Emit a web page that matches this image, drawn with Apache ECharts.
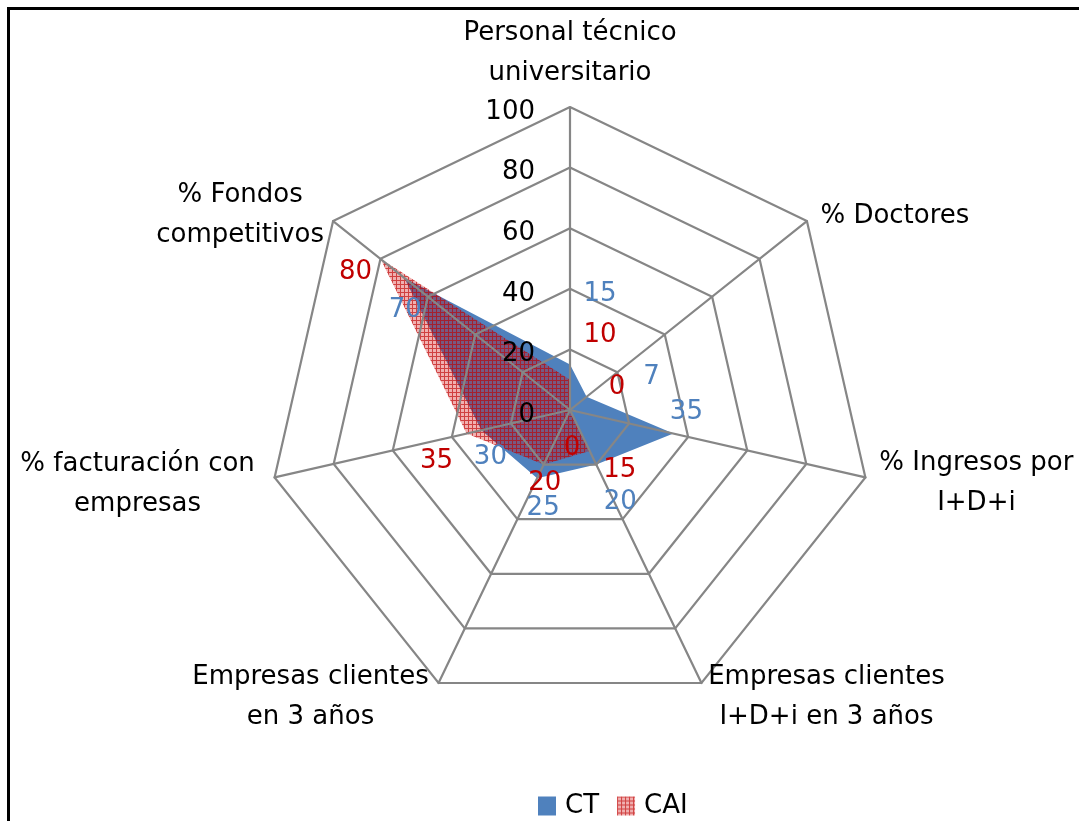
<!DOCTYPE html>
<html>
<head>
<meta charset="utf-8">
<script src="https://cdn.jsdelivr.net/npm/echarts@6/dist/echarts.min.js"></script>
<style>
  html, body { margin: 0; padding: 0; background: #fff; overflow: hidden; }
  #chart { width: 1079px; height: 821px; }
  #frame {
    position: absolute; left: 7px; top: 7px; width: 1200px; height: 1000px;
    border-left: 3px solid #000; border-top: 3px solid #000; pointer-events: none;
  }
</style>
</head>
<body>
<div id="chart"></div>
<div id="frame"></div>
<script>
// axes, clockwise from the top
const axisNames = [
  'Personal técnico\nuniversitario',
  '% Doctores',
  '% Ingresos por\nI+D+i',
  'Empresas clientes\nI+D+i en 3 años',
  'Empresas clientes\nen 3 años',
  '% facturación con\nempresas',
  '% Fondos\ncompetitivos'
];
const ctValues = [15, 7, 35, 20, 25, 30, 70];
const caiValues = [10, 0, 0, 15, 20, 35, 80];
const radiusTicks = [0, 20, 40, 60, 80, 100];

// label placement (pixel offsets from the point)
const nameOffsets = [[0, -54], [88, -5], [111, 6], [125, 14], [-128, 14], [-137, 7], [-93, -6]];
const ctLabelOffsets = [[30, -70], [65, -20], [13, -21], [24, 38], [6, 30], [9, 27], [1, 32]];
const caiLabelOffsets = [[30, -44], [47, -23], [2, 38], [30, 19], [1, 19], [-30, 28], [-25, 13]];

const FONT = 'DejaVu Sans';
const FS = 26;
const BLUE = '#4F81BD';
const RED = '#C00000';
const GRID = '#868686';
const CENTER = [570, 410];
const RADIUS = 303;

// red grid hatch, see-through so the blue area shows under it
function makeHatch() {
  const c = document.createElement('canvas');
  c.width = 4; c.height = 4;
  const g = c.getContext('2d');
  g.fillStyle = 'rgba(207,0,0,0.31)';
  g.fillRect(1, 1, 3, 3);
  g.fillStyle = 'rgba(192,0,0,0.75)';
  g.fillRect(0, 0, 4, 1);
  g.fillRect(0, 1, 1, 3);
  return c;
}
const hatch = { image: makeHatch(), repeat: 'repeat' };

// echarts radar goes counterclockwise, so reorder
const ccw = [0, 6, 5, 4, 3, 2, 1];
const toRadar = arr => ccw.map(i => arr[i]);

function labelPoints(values, offsets, color) {
  return values.map((v, i) => ({
    value: [v, i],
    label: { offset: offsets[i], color: color }
  }));
}

const textBase = { fontSize: FS, fontFamily: FONT, opacity: 1 };

const chart = echarts.init(document.getElementById('chart'));

chart.setOption({
  animation: false,
  legend: {
    left: 533,
    top: 788,
    itemWidth: 18,
    itemHeight: 19,
    itemGap: 18,
    textStyle: { fontSize: FS, color: '#000', fontFamily: FONT, padding: [0, 0, 0, 4] },
    data: [
      { name: 'CT', icon: 'rect', itemStyle: { color: BLUE } },
      { name: 'CAI', icon: 'rect', itemStyle: { color: hatch } }
    ]
  },
  radar: {
    center: CENTER,
    radius: RADIUS,
    startAngle: 90,
    shape: 'polygon',
    splitNumber: 5,
    z: 3,
    indicator: ccw.map(i => ({ name: axisNames[i], min: 0, max: 100 })),
    axisName: { show: false },
    axisLine: { lineStyle: { color: GRID, width: 2.2 } },
    splitLine: { lineStyle: { color: GRID, width: 2.2 } },
    splitArea: { show: false },
    axisTick: { show: false },
    axisLabel: { show: false }
  },
  polar: { center: CENTER, radius: RADIUS },
  angleAxis: { type: 'value', min: 0, max: 7, show: false },
  radiusAxis: {
    type: 'value',
    min: 0,
    max: 100,
    interval: 20,
    z: 10,
    axisLine: { show: false },
    axisTick: { show: false },
    splitLine: { show: false },
    axisLabel: {
      margin: 35,
      color: '#000',
      fontSize: FS,
      fontFamily: FONT,
      formatter: v => radiusTicks.includes(v) ? '{t|' + v + '}' : '',
      rich: { t: { fontSize: FS, fontFamily: FONT, color: '#000', padding: [10, 0, 0, 0] } }
    }
  },
  series: [
    {
      type: 'radar',
      z: 1,
      symbol: 'none',
      data: [
        { name: 'CT', value: toRadar(ctValues), lineStyle: { opacity: 0 }, itemStyle: { color: BLUE }, areaStyle: { color: BLUE, opacity: 1 } },
        { name: 'CAI', value: toRadar(caiValues), lineStyle: { opacity: 0 }, itemStyle: { color: RED }, areaStyle: { color: hatch, opacity: 1 } }
      ]
    },
    {
      name: 'nombres',
      type: 'scatter',
      coordinateSystem: 'polar',
      symbolSize: 0,
      z: 10,
      silent: true,
      itemStyle: { opacity: 1 },
      data: axisNames.map((n, i) => ({ value: [100, i], label: { offset: nameOffsets[i] } })),
      label: Object.assign({
        show: true,
        position: 'inside',
        align: 'center',
        verticalAlign: 'middle',
        lineHeight: 40,
        color: '#000',
        formatter: p => axisNames[p.dataIndex]
      }, textBase)
    },
    {
      name: 'etiquetas CT',
      type: 'scatter',
      coordinateSystem: 'polar',
      symbolSize: 0,
      z: 10,
      silent: true,
      itemStyle: { opacity: 1 },
      data: labelPoints(ctValues, ctLabelOffsets, BLUE),
      label: Object.assign({ show: true, position: 'inside', formatter: p => p.value[0] }, textBase)
    },
    {
      name: 'etiquetas CAI',
      type: 'scatter',
      coordinateSystem: 'polar',
      symbolSize: 0,
      z: 10,
      silent: true,
      itemStyle: { opacity: 1 },
      data: labelPoints(caiValues, caiLabelOffsets, RED),
      label: Object.assign({ show: true, position: 'inside', formatter: p => p.value[0] }, textBase)
    }
  ]
});
</script>
</body>
</html>
